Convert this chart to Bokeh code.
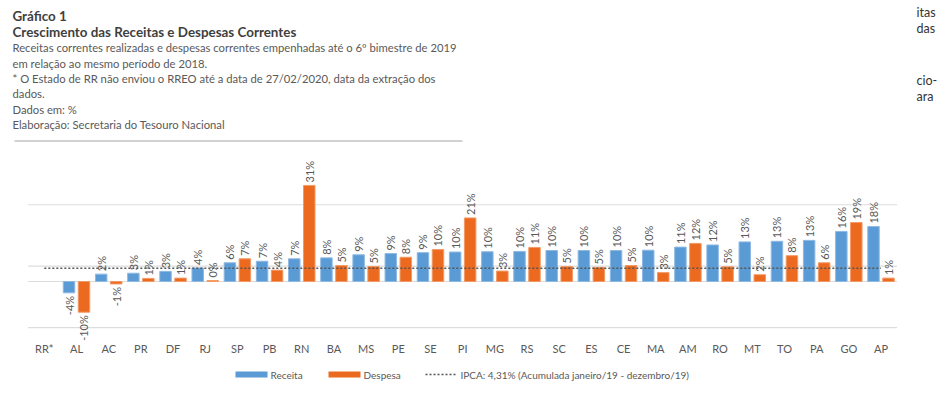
import numpy as np
from bokeh.plotting import figure
from bokeh.models import Range1d
from bokeh.core.properties import value
from bokeh.embed import file_html
from bokeh.resources import INLINE

# ---------------- data ----------------
categories = ["RR*", "AL", "AC", "PR", "DF", "RJ", "SP", "PB", "RN", "BA", "MS", "PE", "SE", "PI",
              "MG", "RS", "SC", "ES", "CE", "MA", "AM", "RO", "MT", "TO", "PA", "GO", "AP"]
receita = [np.nan, -3.7, 2.4, 2.7, 3.3, 4.4, 6.1, 6.6, 7.4, 7.7, 8.7, 9.1, 9.4, 9.6,
           9.7, 9.8, 10.1, 10.1, 10.1, 10.2, 11.2, 11.9, 12.9, 13.1, 13.4, 16.3, 17.9]
despesa = [np.nan, -10.0, -0.8, 1.0, 1.1, 0.3, 7.4, 3.7, 31.3, 5.2, 4.9, 7.9, 10.4, 20.7,
           3.4, 11.1, 4.9, 4.6, 5.2, 2.9, 12.4, 4.8, 2.2, 8.4, 6.1, 19.2, 1.1]
ipca = 4.31
grid_ticks = [-15, 5, 25]

title_lines = ["Gráfico 1", "Crescimento das Receitas e Despesas Correntes"]
subtitle_lines = [
    "Receitas correntes realizadas e despesas correntes empenhadas até o 6º bimestre de 2019",
    "em relação ao mesmo período de 2018.",
    "* O Estado de RR não enviou o  RREO até a data de 27/02/2020, data da extração dos",
    "dados.",
    "Dados em: %",
    "Elaboração: Secretaria do Tesouro Nacional",
]
side_fragments = ["itas", "das", "cio-", "ara"]
legend_labels = ["Receita", "Despesa", "IPCA: 4,31% (Acumulada janeiro/19 - dezembro/19)"]

# ---------------- layout ----------------
W, H = 945, 392
OFF = 0                        # page offset of the figure's top-left corner
X0, STEP = 27.73, 32.18        # page px of category-axis start, px per category
Y0, PXU = 281.0, 3.07          # page px of zero line, px per percentage point

def ux(page_x):
    return (page_x - X0) / STEP

def uy(page_y):
    return (Y0 - page_y) / PXU

BLUE, ORANGE = "#5B9BD5", "#EB6A1F"
GREY = "#595959"
FONT = value("Lato")

p = figure(width=W, height=H, output_backend="svg", toolbar_location=None,
           x_range=Range1d(ux(OFF), ux(OFF + W)), y_range=Range1d(uy(OFF + H), uy(OFF)),
           x_axis_location=None, y_axis_location=None, min_border=0)
p.outline_line_color = None
p.background_fill_color = "white"
p.border_fill_color = "white"
p.xgrid.visible = False
p.ygrid.visible = False

n = len(categories)
centers = np.arange(n) + 0.5

# grid lines and zero line
for t in grid_ticks + [0]:
    p.segment(x0=[0], x1=[n], y0=[t], y1=[t], line_color="#DDDDDD", line_width=1.2)

# bars
off, bw = 0.233, 0.357
rec = np.array(receita, dtype=float)
desp = np.array(despesa, dtype=float)
mr = ~np.isnan(rec)
md = ~np.isnan(desp)
p.vbar(x=(centers - off)[mr], top=rec[mr], bottom=0, width=bw,
       fill_color=BLUE, line_color="#8FB9E3", line_width=1)
p.vbar(x=(centers + off)[md], top=desp[md], bottom=0, width=bw,
       fill_color=ORANGE, line_color="#F29A66", line_width=1)

# IPCA dotted line
p.line(x=centers, y=[ipca] * n, line_color="#555555", line_width=1.6, line_dash="2 2")

# value labels (rotated)
def add_labels(xs, vals):
    pos = vals >= 0
    neg = vals < 0
    txt = np.array([f"{v:.0f}%" for v in vals])
    p.text(x=xs[pos], y=vals[pos], text=txt[pos], angle=np.pi / 2, text_align="left",
           text_baseline="middle", y_offset=-3, text_font=FONT, text_font_size="11px",
           text_color=GREY)
    p.text(x=xs[neg], y=vals[neg], text=txt[neg], angle=np.pi / 2, text_align="right",
           text_baseline="middle", y_offset=3, text_font=FONT, text_font_size="11px",
           text_color=GREY)

add_labels((centers - off)[mr], rec[mr])
add_labels((centers + off)[md], desp[md])

# category labels
p.text(x=centers, y=[uy(348)] * n, text=categories, text_align="center",
       text_baseline="middle", text_font=FONT, text_font_size="11px", text_color=GREY)

# titles
ys = [15, 31]
for t, yy in zip(title_lines, ys):
    p.text(x=[ux(12)], y=[uy(yy)], text=[t], text_align="left", text_baseline="middle",
           text_font=FONT, text_font_size="13.4px", text_font_style="bold", text_color="#3F3F3F")
ys = [47, 62.7, 78, 93, 108.5, 124]
for t, yy in zip(subtitle_lines, ys):
    p.text(x=[ux(12)], y=[uy(yy)], text=[t], text_align="left", text_baseline="middle",
           text_font=FONT, text_font_size="11.25px", text_color=GREY)
p.segment(x0=[ux(14)], x1=[ux(462)], y0=[uy(140.5)], y1=[uy(140.5)],
          line_color="#A6A6A6", line_width=1.2)

# side fragments of surrounding page text
for t, yy in zip(side_fragments, [12, 28, 80, 96]):
    p.text(x=[ux(916)], y=[uy(yy)], text=[t], text_align="left", text_baseline="middle",
           text_font=FONT, text_font_size="12.5px", text_color="#333333")

# legend
ly = uy(374)
p.quad(left=[ux(235)], right=[ux(267)], top=[uy(371)], bottom=[uy(377)],
       fill_color=BLUE, line_color=None)
p.quad(left=[ux(328)], right=[ux(360)], top=[uy(371)], bottom=[uy(377)],
       fill_color=ORANGE, line_color=None)
p.line(x=[ux(425), ux(457)], y=[ly, ly], line_color="#555555", line_width=1.3, line_dash="2 2")
for t, xx in zip(legend_labels, [270, 363, 460]):
    p.text(x=[ux(xx)], y=[ly], text=[t], text_align="left", text_baseline="middle",
           text_font=FONT, text_font_size="10px", text_color=GREY)

open("out.html", "w").write(file_html(p, INLINE))
